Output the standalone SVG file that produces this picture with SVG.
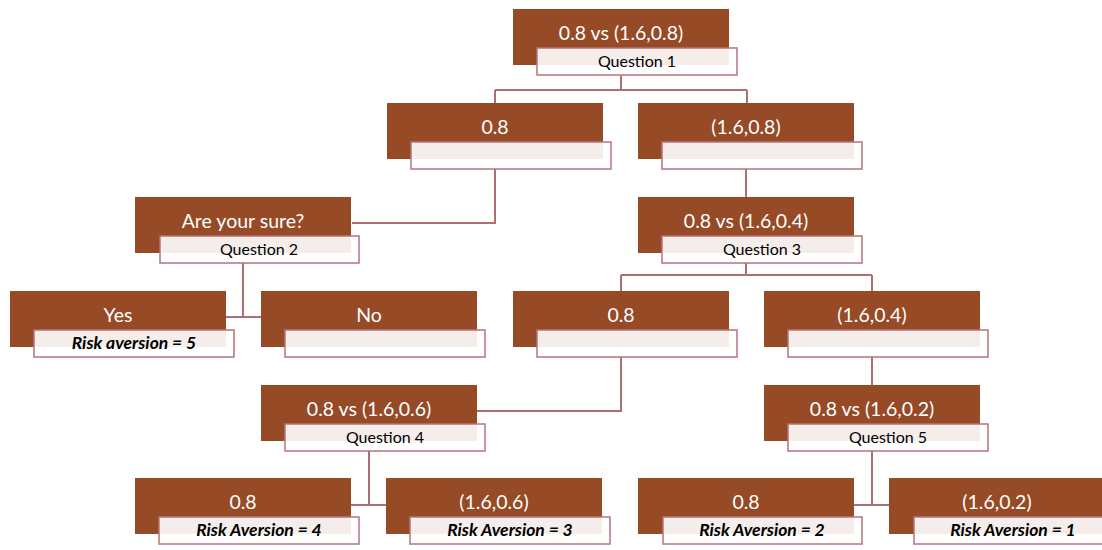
<svg xmlns="http://www.w3.org/2000/svg" width="1102" height="550" viewBox="0 0 1102 550">
<style>
.b{fill:#964a26}
.l{fill:#ffffff;fill-opacity:0.9;stroke:#b5747a;stroke-width:1.5}
.t{font-family:Lato,"Open Sans",sans-serif;font-size:19.5px;fill:#ffffff;text-anchor:middle}
.q{font-family:Lato,"Open Sans",sans-serif;font-size:16px;fill:#000000;text-anchor:middle}
.r{font-family:Lato,"Open Sans",sans-serif;font-size:17.5px;fill:#000000;text-anchor:middle;font-weight:bold;font-style:italic}
.c{fill:none;stroke:#b06e74;stroke-width:2}
</style>
<rect width="1102" height="550" fill="#ffffff"/>
<g id="connectors">
<path class="c" d="M621,76 V90 M495,90 H747 M495,90 V103 M747,90 V103"/>
<path class="c" d="M495,169 V223 H352"/>
<path class="c" d="M746,169 V197"/>
<path class="c" d="M243,263 V317 M226,317 H261"/>
<path class="c" d="M746,263 V275 M621,275 H872 M621,275 V291 M872,275 V291"/>
<path class="c" d="M621,357 V411 H477"/>
<path class="c" d="M872,357 V385"/>
<path class="c" d="M369,451 V505 M351,505 H386"/>
<path class="c" d="M872,451 V505 M854,505 H889"/>
</g>
<g id="n1"><rect class="b" x="513" y="9" width="216" height="56"/><text class="t" x="621" y="40">0.8 vs (1.6,0.8)</text><rect class="l" x="537" y="48" width="200" height="27"/><text class="q" x="637" y="67">Question 1</text></g>
<g id="n2"><rect class="b" x="387" y="103" width="216" height="56"/><text class="t" x="495" y="134">0.8</text><rect class="l" x="411" y="142" width="200" height="27"/></g>
<g id="n3"><rect class="b" x="638" y="103" width="216" height="56"/><text class="t" x="746" y="134">(1.6,0.8)</text><rect class="l" x="662" y="142" width="200" height="27"/></g>
<g id="n4"><rect class="b" x="135" y="197" width="216" height="56"/><text class="t" x="243" y="228">Are your sure?</text><rect class="l" x="160" y="236" width="199" height="27"/><text class="q" x="259" y="255">Question 2</text></g>
<g id="n5"><rect class="b" x="638" y="197" width="216" height="56"/><text class="t" x="746" y="228">0.8 vs (1.6,0.4)</text><rect class="l" x="662" y="236" width="200" height="27"/><text class="q" x="762" y="255">Question 3</text></g>
<g id="n6"><rect class="b" x="10" y="291" width="216" height="56"/><text class="t" x="118" y="322">Yes</text><rect class="l" x="34" y="330" width="200" height="27"/><text class="r" x="134" y="349">Risk aversion = 5</text></g>
<g id="n7"><rect class="b" x="261" y="291" width="216" height="56"/><text class="t" x="369" y="322">No</text><rect class="l" x="285" y="330" width="200" height="27"/></g>
<g id="n8"><rect class="b" x="513" y="291" width="216" height="56"/><text class="t" x="621" y="322">0.8</text><rect class="l" x="537" y="330" width="200" height="27"/></g>
<g id="n9"><rect class="b" x="764" y="291" width="216" height="56"/><text class="t" x="872" y="322">(1.6,0.4)</text><rect class="l" x="788" y="330" width="200" height="27"/></g>
<g id="n10"><rect class="b" x="261" y="385" width="216" height="56"/><text class="t" x="369" y="416">0.8 vs (1.6,0.6)</text><rect class="l" x="285" y="424" width="200" height="27"/><text class="q" x="385" y="443">Question 4</text></g>
<g id="n11"><rect class="b" x="764" y="385" width="216" height="56"/><text class="t" x="872" y="416">0.8 vs (1.6,0.2)</text><rect class="l" x="788" y="424" width="200" height="27"/><text class="q" x="888" y="443">Question 5</text></g>
<g id="n12"><rect class="b" x="135" y="478" width="216" height="56"/><text class="t" x="243" y="509">0.8</text><rect class="l" x="159" y="517" width="200" height="27"/><text class="r" x="259" y="536">Risk Aversion = 4</text></g>
<g id="n13"><rect class="b" x="386" y="478" width="216" height="56"/><text class="t" x="494" y="509">(1.6,0.6)</text><rect class="l" x="410" y="517" width="200" height="27"/><text class="r" x="510" y="536">Risk Aversion = 3</text></g>
<g id="n14"><rect class="b" x="638" y="478" width="216" height="56"/><text class="t" x="746" y="509">0.8</text><rect class="l" x="663" y="517" width="199" height="27"/><text class="r" x="762" y="536">Risk Aversion = 2</text></g>
<g id="n15"><rect class="b" x="889" y="478" width="216" height="56"/><text class="t" x="997" y="509">(1.6,0.2)</text><rect class="l" x="914" y="517" width="200" height="27"/><text class="r" x="1013" y="536">Risk Aversion = 1</text></g>
</svg>
